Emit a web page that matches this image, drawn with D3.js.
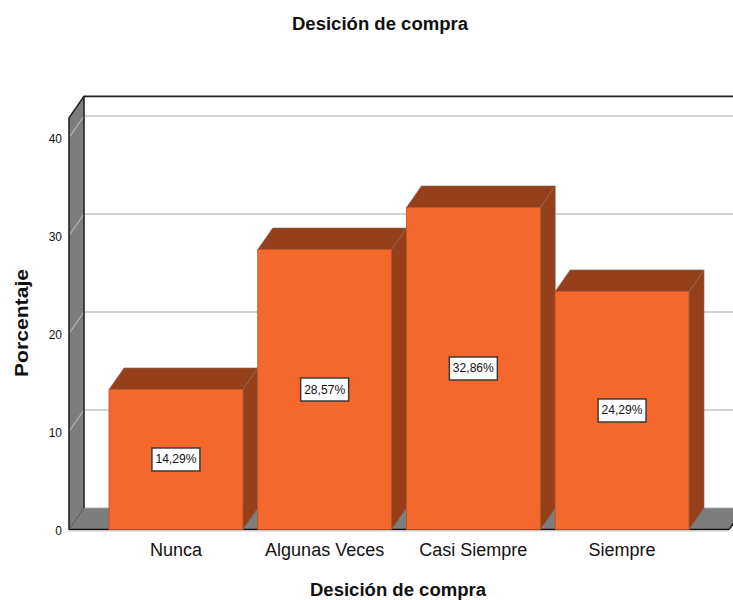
<!DOCTYPE html>
<html>
<head>
<meta charset="utf-8">
<script src="https://cdn.jsdelivr.net/npm/d3@7"></script>
<style>
html,body{margin:0;padding:0;background:#fff;overflow:hidden}
svg{display:block}
text{font-family:"Liberation Sans",Arial,sans-serif;fill:#111}
</style>
</head>
<body>
<svg id="chart" width="733" height="600"></svg>
<script>
const categories = ["Nunca", "Algunas Veces", "Casi Siempre", "Siempre"];
const values = [14.29, 28.57, 32.86, 24.29];
const labels = ["14,29%", "28,57%", "32,86%", "24,29%"];
const yTicks = [0, 10, 20, 30, 40];
const title = "Desición de compra";
const xTitle = "Desición de compra";
const yTitle = "Porcentaje";

const W = 733, H = 600;
const plotLeft = 69, plotRight = 729, base = 529.5, yMax = 42;
const dx = 15, dy = -21.5;
const plotTop = base - yMax * 9.8;

const svg = d3.select("#chart").attr("viewBox", `0 0 ${W} ${H}`);
const y = d3.scaleLinear().domain([0, yMax]).range([base, plotTop]);
const x = d3.scaleBand().domain(categories).range([plotLeft, plotRight]).paddingInner(0.1).paddingOuter(0.269);
const poly = pts => pts.map(p => p.join(",")).join(" ");

const wallColor = "#7d7d7d", grid = "#d2d2d2", front = "#f4682b", side = "#95401a";

// Left wall
svg.append("polygon").attr("points", poly([[plotLeft, base], [plotLeft, plotTop], [plotLeft + dx, plotTop + dy], [plotLeft + dx, base + dy]])).attr("fill", wallColor);
// Floor
svg.append("polygon").attr("points", poly([[plotLeft, base], [plotLeft + dx, base + dy], [plotRight + dx, base + dy], [plotRight, base]])).attr("fill", wallColor);
svg.append("line").attr("x1", plotLeft + dx).attr("x2", W).attr("y1", base + dy).attr("y2", base + dy).attr("stroke", "#aaa").attr("stroke-width", 1);

// Gridlines on back wall and wall
const gridTicks = yTicks.filter(d => d > 0);
svg.selectAll("line.gb").data(gridTicks).join("line").attr("class", "gb")
  .attr("x1", plotLeft + dx).attr("x2", W)
  .attr("y1", d => y(d) + dy).attr("y2", d => y(d) + dy)
  .attr("stroke", grid).attr("stroke-width", 2);
svg.selectAll("line.gw").data(gridTicks).join("line").attr("class", "gw")
  .attr("x1", plotLeft).attr("x2", plotLeft + dx)
  .attr("y1", d => y(d)).attr("y2", d => y(d) + dy)
  .attr("stroke", "#b5b5b5").attr("stroke-width", 1.2);

// Frame
const frame = svg.append("g").attr("stroke", "#222").attr("fill", "none");
frame.append("path").attr("stroke-width", 1.6).attr("d", `M${plotLeft},${base}V${plotTop}L${plotLeft + dx},${plotTop + dy}H${W}`);
frame.append("path").attr("stroke-width", 1.6).attr("d", `M${plotLeft + dx},${plotTop + dy}V${base + dy}`);
frame.append("path").attr("stroke-width", 1).attr("stroke", "#555").attr("d", `M${plotLeft},${base}L${plotLeft + dx},${base + dy}`);
frame.append("path").attr("stroke-width", 1.6).attr("d", `M${plotRight},${base}L${plotRight + dx},${base + dy}`);
svg.append("line").attr("x1", plotLeft).attr("x2", plotRight).attr("y1", base).attr("y2", base).attr("stroke", "#111").attr("stroke-width", 1.6);
svg.append("line").attr("x1", plotLeft).attr("x2", plotRight).attr("y1", base + 1.5).attr("y2", base + 1.5).attr("stroke", "#ccc").attr("stroke-width", 1);

// Bars
const rows = categories.map((c, i) => ({c, v: values[i], label: labels[i]}));
const bw = x.bandwidth();
const bars = svg.selectAll("g.bar").data(rows).join("g").attr("class", "bar");
bars.append("polygon").attr("fill", side).attr("stroke", "#7f6a5e").attr("stroke-width", 0.6)
  .attr("points", d => poly([[x(d.c) + bw, y(d.v)], [x(d.c) + bw + dx, y(d.v) + dy], [x(d.c) + bw + dx, base + dy], [x(d.c) + bw, base]]));
bars.append("polygon").attr("fill", side).attr("stroke", "#7f6a5e").attr("stroke-width", 0.6)
  .attr("points", d => poly([[x(d.c), y(d.v)], [x(d.c) + dx, y(d.v) + dy], [x(d.c) + bw + dx, y(d.v) + dy], [x(d.c) + bw, y(d.v)]]));
bars.append("rect").attr("fill", front).attr("stroke", "#b4532a").attr("stroke-width", 0.8)
  .attr("x", d => x(d.c)).attr("y", d => y(d.v)).attr("width", bw).attr("height", d => base - y(d.v));

// Data labels
bars.append("rect").attr("fill", "#fff").attr("stroke", "#3a3a3a").attr("stroke-width", 1.5)
  .attr("x", d => x(d.c) + bw / 2 - 24).attr("y", d => y(d.v / 2) - 11.5).attr("width", 48).attr("height", 23);
bars.append("text").attr("text-anchor", "middle").attr("font-size", 12).attr("dominant-baseline", "central")
  .attr("x", d => x(d.c) + bw / 2).attr("y", d => y(d.v / 2)).attr("textLength", 41).attr("lengthAdjust", "spacingAndGlyphs").text(d => d.label);

// Axes through d3
const yAxis = d3.axisLeft(y).tickValues(yTicks).tickSize(0).tickPadding(7);
const gy = svg.append("g").attr("transform", `translate(${plotLeft},1.5)`).call(yAxis);
gy.select(".domain").remove();
gy.selectAll("text").attr("font-size", 12).attr("font-family", "Liberation Sans").attr("fill", "#111");

const xAxis = d3.axisBottom(x).tickSize(0).tickPadding(14);
const gx = svg.append("g").attr("transform", `translate(0,${base})`).call(xAxis);
gx.select(".domain").remove();
gx.selectAll("text").attr("font-size", 18).attr("font-family", "Liberation Sans").attr("fill", "#3a3a3a");

// Titles
svg.append("text").attr("x", 380).attr("y", 30).attr("text-anchor", "middle").attr("font-weight", "bold").attr("font-size", 18).attr("textLength", 176).attr("lengthAdjust", "spacingAndGlyphs").text(title);
svg.append("text").attr("x", 398).attr("y", 596).attr("text-anchor", "middle").attr("font-weight", "bold").attr("font-size", 18).attr("textLength", 176).attr("lengthAdjust", "spacingAndGlyphs").text(xTitle);
svg.append("text").attr("transform", "translate(28,323) rotate(-90)").attr("text-anchor", "middle").attr("font-weight", "bold").attr("font-size", 18).attr("textLength", 108).attr("lengthAdjust", "spacingAndGlyphs").text(yTitle);
</script>
</body>
</html>
